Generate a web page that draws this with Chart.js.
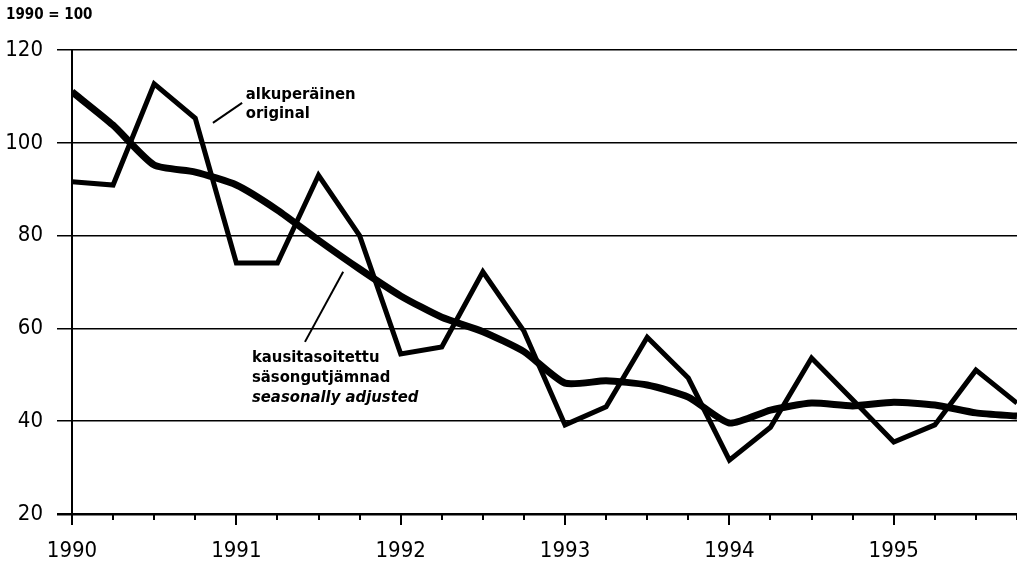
<!doctype html>
<html lang="fi">
<head>
<meta charset="utf-8">
<title>1990 = 100</title>
<script src="https://cdn.jsdelivr.net/npm/chart.js@4.4.0/dist/chart.umd.min.js"></script>
<style>
	html, body { margin:0; padding:0; background:#fff; }
	#wrap { width:1017px; height:566px; position:relative; }
</style>
</head>
<body>
<div id="wrap"><canvas id="myChart"></canvas></div>
<script>
// quarters 1990 Q1 .. 1995 Q4
var years = ['1990', '1991', '1992', '1993', '1994', '1995'];
var quarters = [];
for (var y = 0; y < years.length; y++) {
	for (var q = 1; q <= 4; q++) quarters.push(years[y] + ' Q' + q);
}

// alkuperäinen / original
var original = [91.6, 90.9, 112.7, 105.3, 74.1, 74.1, 93.0, 80.0,
	54.5, 56.0, 72.2, 59.4, 39.2, 43.1, 58.1, 49.3,
	31.6, 38.7, 53.6, 44.6, 35.5, 39.2, 51.0, 43.9];

// kausitasoitettu / säsongutjämnad / seasonally adjusted
var adjusted = [111.0, 103.8, 95.2, 93.7, 90.9, 85.5, 79.0, 72.8,
	67.0, 62.4, 59.3, 55.0, 48.2, 48.7, 47.8, 45.2,
	39.6, 42.4, 43.9, 43.3, 44.1, 43.5, 41.8, 41.1];

var yTicks = [20, 40, 60, 80, 100, 120];

var fontFam = '"DejaVu Sans Condensed", "Liberation Sans Narrow", sans-serif';

function toPts(arr) {
	return arr.map(function (v, i) { return { x: i, y: v }; });
}

// labels and leader lines, in data units
var notes = [
	{ lines: ['alkuperäinen', 'original'], italic: [false, false], x: 4.23, y: [110.3, 106.2],
	  lead: [[3.43, 104.3], [4.14, 108.6]] },
	{ lines: ['kausitasoitettu', 'säsongutjämnad', 'seasonally adjusted'], italic: [false, false, true],
	  x: 4.38, y: [53.6, 49.3, 45.0], lead: [[6.6, 72.2], [5.67, 57.1]] }
];

var extras = {
	id: 'extras',
	afterDraw: function (chart) {
		var ctx = chart.ctx, xs = chart.scales.x, ys = chart.scales.y;
		ctx.save();
		// quarter ticks under the axis
		ctx.strokeStyle = '#000';
		ctx.lineWidth = 2;
		var base = ys.getPixelForValue(20);
		for (var i = 0; i < quarters.length; i++) {
			var px = Math.round(xs.getPixelForValue(i));
			ctx.beginPath();
			ctx.moveTo(px, base);
			ctx.lineTo(px, base + (i % 4 == 0 ? 11 : 6));
			ctx.stroke();
		}
		// title
		ctx.fillStyle = '#000';
		ctx.font = 'bold 15px ' + fontFam;
		ctx.textBaseline = 'middle';
		ctx.textAlign = 'left';
		ctx.fillText('1990 = 100', 6, 15);
		// annotations
		notes.forEach(function (n) {
			ctx.lineWidth = 2;
			ctx.beginPath();
			ctx.moveTo(xs.getPixelForValue(n.lead[0][0]), ys.getPixelForValue(n.lead[0][1]));
			ctx.lineTo(xs.getPixelForValue(n.lead[1][0]), ys.getPixelForValue(n.lead[1][1]));
			ctx.stroke();
			n.lines.forEach(function (t, k) {
				ctx.font = (n.italic[k] ? 'italic ' : '') + 'bold 16.5px ' + fontFam;
				ctx.fillText(t, xs.getPixelForValue(n.x), ys.getPixelForValue(n.y[k]));
			});
		});
		ctx.restore();
	}
};

new Chart(document.getElementById('myChart'), {
	type: 'line',
	data: {
		datasets: [{
			label: 'alkuperäinen / original',
			data: toPts(original),
			borderColor: '#000',
			borderWidth: 5,
			pointRadius: 0,
			tension: 0,
			borderJoinStyle: 'miter'
		}, {
			label: 'kausitasoitettu / säsongutjämnad / seasonally adjusted',
			data: toPts(adjusted),
			borderColor: '#000',
			borderWidth: 7,
			pointRadius: 0,
			tension: 0.2
		}]
	},
	options: {
		responsive: true,
		maintainAspectRatio: false,
		animation: false,
		layout: { padding: { top: 50, right: 0, left: 0, bottom: 0 } },
		plugins: { legend: { display: false }, tooltip: { enabled: false }, title: { display: false } },
		scales: {
			x: {
				type: 'linear',
				min: 0,
				max: quarters.length - 1,
				afterFit: function (s) { s.height = 52; s.paddingRight = 0; },
				afterBuildTicks: function (s) {
					s.ticks = quarters.map(function (q, i) { return { value: i }; });
				},
				border: { display: false },
				grid: { drawOnChartArea: false, drawTicks: true, tickLength: 24, tickColor: 'rgba(0,0,0,0)' },
				ticks: {
					autoSkip: false,
					maxRotation: 0,
					padding: 0,
					color: '#000',
					font: { family: fontFam, size: 22 },
					callback: function (v) { return v % 4 == 0 ? years[v / 4] : ''; }
				}
			},
			y: {
				min: yTicks[0],
				max: yTicks[yTicks.length - 1],
				afterFit: function (s) { s.width = 72; },
				afterBuildTicks: function (s) {
					s.ticks = yTicks.map(function (v) { return { value: v }; });
				},
				border: { display: true, color: '#000', width: 2 },
				grid: {
					color: '#000',
					lineWidth: function (c) { return c.tick && c.tick.value == 20 ? 2.5 : 1.5; },
					tickLength: 15
				},
				ticks: {
					padding: 14,
					color: '#000',
					font: { family: fontFam, size: 22 }
				}
			}
		}
	},
	plugins: [extras]
});
</script>
</body>
</html>
